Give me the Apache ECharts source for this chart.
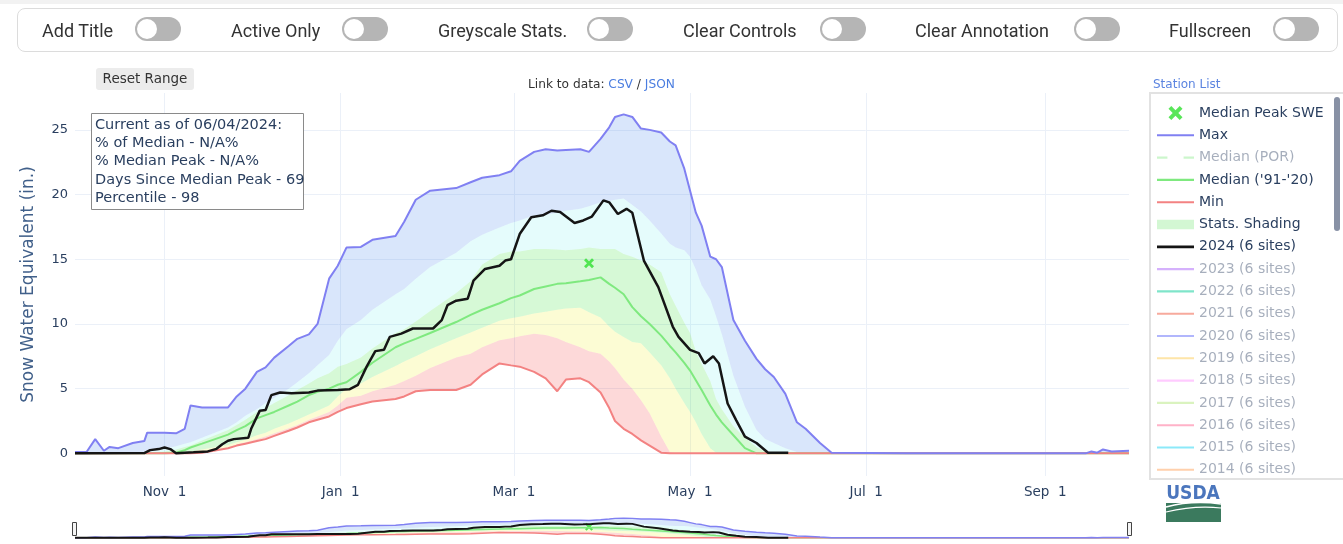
<!DOCTYPE html>
<html lang="en">
<head>
<meta charset="UTF-8">
<title>Snow Water Equivalent</title>
<style>
  body { margin: 0; background: #fff; }
  #wrap { position: relative; width: 1343px; height: 544px; overflow: hidden; }
  #main { position: absolute; left: 0; top: 0; width: 1343px; height: 544px; }
  #topline { position: absolute; left: 0; top: 0; width: 1343px; height: 4px; background: #f2f2f2; }
  #toolbar { position: absolute; left: 17px; top: 8px; width: 1319px; height: 42px; border: 1px solid #dcdcdc;
             border-radius: 8px; background: #fff; font-family: Roboto, sans-serif; font-size: 18px; color: #333; }
  .lbl { position: absolute; top: 0; line-height: 44px; white-space: nowrap; }
  .tog { position: absolute; top: 8px; width: 46px; height: 24px; border-radius: 12px; background: #b5b5b5; }
  .tog:after { content: ''; position: absolute; left: 2px; top: 2px; width: 20px; height: 20px; border-radius: 50%; background: #fff; }
</style>
</head>
<body>
<div id="wrap">
  <div id="main"></div>
  <div id="topline"></div>
  <div id="toolbar">
    <span class="lbl" style="left:24px">Add Title</span><span class="tog" style="left:117px"></span>
    <span class="lbl" style="left:213px">Active Only</span><span class="tog" style="left:324px"></span>
    <span class="lbl" style="left:420px">Greyscale Stats.</span><span class="tog" style="left:569px"></span>
    <span class="lbl" style="left:665px">Clear Controls</span><span class="tog" style="left:802px"></span>
    <span class="lbl" style="left:897px">Clear Annotation</span><span class="tog" style="left:1056px"></span>
    <span class="lbl" style="left:1151px">Fullscreen</span><span class="tog" style="left:1255px"></span>
  </div>
</div>
<script src="https://cdn.jsdelivr.net/npm/echarts@6.0.0/dist/echarts.min.js"></script>
<script>
    // dates shared by all the statistics curves (water year 2024)
    const statDates = [
        '2023-10-01', '2023-10-05', '2023-10-08', '2023-10-11', '2023-10-13', '2023-10-16', '2023-10-21', '2023-10-25', '2023-10-26',
        '2023-11-01', '2023-11-05', '2023-11-08', '2023-11-10', '2023-11-14', '2023-11-23', '2023-11-26', '2023-11-29',
        '2023-12-03', '2023-12-06', '2023-12-09', '2023-12-14', '2023-12-17', '2023-12-21', '2023-12-24', '2023-12-28', '2023-12-31',
        '2024-01-03', '2024-01-08', '2024-01-12', '2024-01-20', '2024-01-23', '2024-01-27',
        '2024-02-01', '2024-02-10', '2024-02-15', '2024-02-19', '2024-02-25', '2024-02-29',
        '2024-03-03', '2024-03-08', '2024-03-12', '2024-03-16', '2024-03-19', '2024-03-24', '2024-03-27', '2024-03-31',
        '2024-04-03', '2024-04-05', '2024-04-08', '2024-04-11', '2024-04-14', '2024-04-17', '2024-04-21', '2024-04-24', '2024-04-26', '2024-04-29',
        '2024-05-01', '2024-05-03', '2024-05-05', '2024-05-08', '2024-05-10', '2024-05-12', '2024-05-16', '2024-05-20', '2024-05-24', '2024-05-27', '2024-05-30',
        '2024-06-03', '2024-06-07', '2024-06-10', '2024-06-15', '2024-06-19',
        '2024-07-15',
        '2024-09-15', '2024-09-17', '2024-09-19', '2024-09-21', '2024-09-24', '2024-09-30'
    ];
    const maxSwe = [
        0.1, 0.1, 1.1, 0.2, 0.5, 0.4, 0.8, 0.95, 1.6,
        1.6, 1.55, 1.9, 3.7, 3.55, 3.55, 4.4, 5.0,
        6.3, 6.65, 7.4, 8.3, 8.85, 9.2, 10.0, 13.5, 14.5,
        15.9, 15.95, 16.5, 16.8, 17.9, 19.6,
        20.3, 20.5, 20.95, 21.3, 21.5, 21.8,
        22.6, 23.3, 23.5, 23.4, 23.45, 23.5, 23.3, 24.3,
        25.2, 26.0, 26.2, 26.0, 25.1, 25.0, 24.8, 24.1, 23.8, 22.0,
        20.3, 18.6, 17.6, 15.2, 15.0, 14.4, 10.3, 8.7, 7.3, 6.5, 5.9,
        4.6, 2.4, 1.9, 0.8, 0.05,
        0,
        0, 0.15, 0.05, 0.3, 0.15, 0.2
    ];
    const p90Swe = [
        0, 0, 0, 0, 0, 0, 0, 0.05, 0.1,
        0.35, 0.55, 0.75, 0.85, 1.2, 2.0, 2.4, 2.9,
        3.4, 3.9, 4.3, 5.0, 5.5, 6.2, 6.8, 7.6, 8.7,
        9.6, 10.3, 11.1, 12.3, 12.7, 13.5,
        14.4, 15.5, 16.4, 16.9, 17.45, 17.8,
        18.0, 18.4, 18.45, 18.6, 18.75, 18.9, 19.1, 19.4,
        19.5, 19.6, 19.7, 19.2, 18.7, 18.0, 17.0, 16.2, 15.9, 15.7,
        15.2, 14.2, 13.0, 11.9, 10.6, 9.2, 6.0, 3.6, 1.8, 1.1, 0.8,
        0.4, 0.1, 0, 0, 0,
        0,
        0, 0, 0, 0, 0, 0
    ];
    const p70Swe = [
        0, 0, 0, 0, 0, 0, 0, 0, 0.02,
        0.15, 0.3, 0.5, 0.6, 1.0, 1.8, 2.2, 2.6,
        3.2, 3.5, 3.9, 4.5, 4.9, 5.4, 5.8, 6.2, 6.7,
        6.9, 7.4, 8.1, 9.3, 9.6, 10.2,
        11.0, 12.4, 13.3, 14.6, 15.4, 15.6,
        15.6, 15.8, 15.8, 15.75, 15.7, 15.8, 15.9, 15.8,
        15.8, 15.8, 15.4, 15.2, 14.9, 14.6, 14.0, 12.3, 11.4, 10.1,
        9.3, 7.9, 6.9, 5.6, 4.2, 3.4, 2.1, 1.2, 0.5, 0.15, 0,
        0, 0, 0, 0, 0,
        0,
        0, 0, 0, 0, 0, 0
    ];
    const medianSwe = [
        0, 0, 0, 0, 0, 0, 0, 0, 0,
        0, 0.05, 0.25, 0.45, 0.75, 1.45, 1.8, 2.1,
        2.7, 2.95, 3.2, 3.7, 4.0, 4.5, 4.75, 5.0, 5.3,
        5.5, 6.3, 7.0, 8.2, 8.5, 8.85,
        9.3, 10.15, 10.7, 11.1, 11.6, 12.0,
        12.2, 12.7, 12.9, 13.1, 13.15, 13.3, 13.4, 13.6,
        13.1, 12.8, 12.3, 11.3, 10.6, 10.0, 9.1, 8.3, 7.8, 7.0,
        6.4, 5.65, 4.9, 3.7, 3.0, 2.4, 1.4, 0.4, 0, 0, 0,
        0, 0, 0, 0, 0,
        0,
        0, 0, 0, 0, 0, 0
    ];
    const p30Swe = [
        0, 0, 0, 0, 0, 0, 0, 0, 0,
        0, 0, 0.05, 0.15, 0.3, 0.65, 0.85, 1.05,
        1.4, 1.6, 1.9, 2.3, 2.6, 3.0, 3.3, 3.7, 4.4,
        5.0, 5.4, 5.9, 6.75, 7.1, 7.5,
        8.05, 8.9, 9.35, 9.7, 10.25, 10.45,
        10.55, 10.8, 10.95, 11.1, 11.2, 11.25, 10.9, 10.5,
        9.8, 9.4, 9.0, 8.6, 8.5, 7.8, 6.8, 5.8, 5.0, 3.9,
        3.2, 2.4, 1.5, 0.4, 0.05, 0, 0, 0, 0, 0, 0,
        0, 0, 0, 0, 0,
        0,
        0, 0, 0, 0, 0, 0
    ];
    const p10Swe = [
        0, 0, 0, 0, 0, 0, 0, 0, 0,
        0, 0, 0, 0, 0.05, 0.45, 0.7, 0.85,
        1.1, 1.3, 1.55, 1.95, 2.2, 2.6, 2.85, 3.2, 3.7,
        4.3, 4.45, 4.8, 5.3, 5.6, 6.0,
        6.6, 7.4, 7.7, 8.2, 8.75, 8.9,
        9.05, 9.25, 9.15, 8.9, 8.6, 8.2, 7.9, 7.7,
        7.1, 6.6, 5.7, 5.0, 4.1, 3.1, 1.3, 0.1, 0, 0,
        0, 0, 0, 0, 0, 0, 0, 0, 0, 0, 0,
        0, 0, 0, 0, 0,
        0,
        0, 0, 0, 0, 0, 0
    ];
    const minSwe = [
        0, 0, 0, 0, 0, 0, 0, 0, 0,
        0, 0, 0, 0, 0.05, 0.4, 0.6, 0.75,
        0.95, 1.1, 1.35, 1.75, 2.0, 2.4, 2.6, 2.85, 3.2,
        3.5, 3.8, 4.0, 4.2, 4.4, 4.8,
        4.9, 4.9, 5.3, 6.1, 6.95, 6.8,
        6.7, 6.3, 5.8, 4.8, 5.7, 5.8, 5.5, 4.7,
        3.5, 2.5, 1.9, 1.5, 1.0, 0.6, 0.05, 0, 0, 0,
        0, 0, 0, 0, 0, 0, 0, 0, 0, 0, 0,
        0, 0, 0, 0, 0,
        0,
        0, 0, 0, 0, 0, 0
    ];

    // current water year (2024, 6 sites)
    const wy2024Dates = [
        '2023-10-01', '2023-10-25', '2023-10-27', '2023-10-30',
        '2023-11-01', '2023-11-03', '2023-11-05', '2023-11-11', '2023-11-16', '2023-11-19', '2023-11-21', '2023-11-23', '2023-11-25', '2023-11-30',
        '2023-12-01', '2023-12-04', '2023-12-06', '2023-12-08', '2023-12-11', '2023-12-15', '2023-12-21', '2023-12-24', '2023-12-31',
        '2024-01-04', '2024-01-07', '2024-01-10', '2024-01-13', '2024-01-16', '2024-01-18', '2024-01-22', '2024-01-26',
        '2024-02-02', '2024-02-05', '2024-02-07', '2024-02-10', '2024-02-14', '2024-02-16', '2024-02-20', '2024-02-25', '2024-02-27', '2024-02-29',
        '2024-03-03', '2024-03-07', '2024-03-11', '2024-03-14', '2024-03-17', '2024-03-22', '2024-03-25', '2024-03-28',
        '2024-04-01', '2024-04-03', '2024-04-06', '2024-04-09', '2024-04-11', '2024-04-15', '2024-04-20', '2024-04-25', '2024-04-27',
        '2024-05-01', '2024-05-04', '2024-05-06', '2024-05-09', '2024-05-11', '2024-05-14', '2024-05-17', '2024-05-20', '2024-05-24', '2024-05-28',
        '2024-06-04'
    ];
    const wy2024Swe = [
        0, 0.02, 0.25, 0.33,
        0.45, 0.33, 0, 0.08, 0.15, 0.35, 0.7, 0.97, 1.1, 1.2,
        1.9, 3.3, 3.35, 4.5, 4.7, 4.65, 4.7, 4.85, 4.9,
        4.95, 5.3, 6.7, 7.9, 8.0, 9.0, 9.25, 9.65,
        9.65, 10.3, 11.45, 11.8, 11.95, 13.35, 14.25, 14.5, 14.9, 15.0,
        16.95, 18.25, 18.4, 18.75, 18.65, 17.8, 18.0, 18.3,
        19.55, 19.4, 18.5, 18.9, 18.6, 14.9, 12.85, 9.8, 9.0,
        8.0, 7.75, 6.95, 7.5, 6.95, 3.85, 2.55, 1.3, 0.8, 0.05,
        0.05
    ];
    const medianPeakDate = '2024-03-27';
    const medianPeakSwe = 14.7;

    const tickDates = ['2023-11-01', '2024-01-01', '2024-03-01', '2024-05-01', '2024-07-01', '2024-09-01'];
    const yTicks = [0, 5, 10, 15, 20, 25];

    const pastYears = ['2023', '2022', '2021', '2020', '2019', '2018', '2017', '2016', '2015', '2014'];
    const pastSites = [6, 6, 6, 6, 6, 5, 6, 6, 6, 6];
    const pastColors = ['#ab63fa', '#00cc96', '#ef553b', '#636efa', '#fecb52', '#ff97ff', '#b6e880', '#ff6692', '#19d3f3', '#ffa15a'];

    const infoLines = [
        'Current as of 06/04/2024:',
        '% of Median - N/A%',
        '% Median Peak - N/A%',
        'Days Since Median Peak - 69',
        'Percentile - 98'
    ];

    const MONTHS = ['Jan', 'Feb', 'Mar', 'Apr', 'May', 'Jun', 'Jul', 'Aug', 'Sep', 'Oct', 'Nov', 'Dec'];
    const FONT = '"DejaVu Sans", Verdana, sans-serif';
    const TXT = '#2a3f5f';
    const GRIDC = '#ebf0f8';
    const C_MAX = '#8080f2', C_MED = '#7fe97f', C_MIN = '#f38282', C_2024 = '#151515', C_PEAK = '#2fe02f';

    // dates go on a numeric axis as local-midnight timestamps
    function ts(s) { return new Date(s + 'T00:00:00').getTime(); }
    function pairs(dates, vals) { return dates.map(function (d, i) { return [ts(d), vals[i]]; }); }
    function fade(hex, a) {
        const n = parseInt(hex.slice(1), 16);
        return 'rgba(' + (n >> 16) + ',' + ((n >> 8) & 255) + ',' + (n & 255) + ',' + a + ')';
    }

    const xMarker = 'path://M2,0 L5,3 L8,0 L10,2 L7,5 L10,8 L8,10 L5,7 L2,10 L0,8 L3,5 L0,2 Z';
    const lineIcon = 'path://M0,0 H35 V2 H0 Z';
    const boldLineIcon = 'path://M0,0 H35 V2.6 H0 Z';
    const dashIcon = 'path://M0,0 H9 V2 H0 Z M23,0 H32 V2 H23 Z';

    const bands = [
        [p10Swe, minSwe, 'rgba(240,0,0,0.15)'],
        [p30Swe, p10Swe, 'rgba(240,240,0,0.17)'],
        [p70Swe, p30Swe, 'rgba(0,220,0,0.16)'],
        [p90Swe, p70Swe, 'rgba(0,230,230,0.1)'],
        [maxSwe, p90Swe, 'rgba(80,140,235,0.22)']
    ];

    // one filled polygon between two percentile curves
    function bandSeries(ax, hi, lo, color) {
        return {
            type: 'custom', name: 'Stats. Shading', xAxisIndex: ax, yAxisIndex: ax, silent: true,
            data: statDates.map(function (d, i) { return [ts(d), lo[i], hi[i]]; }),
            encode: { x: 0, y: [1, 2] },
            renderItem: function (params, api) {
                if (params.dataIndexInside !== 0) return;
                const top = [], bottom = [];
                for (let j = 0; j < params.dataInsideLength; j++) {
                    top.push(api.coord([api.value(0, j), api.value(2, j)]));
                    bottom.push(api.coord([api.value(0, j), api.value(1, j)]));
                }
                return { type: 'polygon', shape: { points: top.concat(bottom.reverse()) }, style: { fill: color } };
            }
        };
    }

    function buildSeries(ax, mini) {
        const w = mini ? 1.5 : 2;
        const common = { xAxisIndex: ax, yAxisIndex: ax, type: 'line', symbol: 'none', silent: true };
        const out = bands.map(function (b) { return bandSeries(ax, b[0], b[1], b[2]); });
        out.push(Object.assign({ name: "Median ('91-'20)", data: pairs(statDates, medianSwe), lineStyle: { color: C_MED, width: w } }, common));
        out.push(Object.assign({ name: 'Min', data: pairs(statDates, minSwe), lineStyle: { color: C_MIN, width: w } }, common));
        out.push(Object.assign({ name: 'Max', data: pairs(statDates, maxSwe), lineStyle: { color: C_MAX, width: w } }, common));
        out.push(Object.assign({ name: '2024 (6 sites)', data: pairs(wy2024Dates, wy2024Swe), lineStyle: { color: C_2024, width: mini ? 2 : 2.5 } }, common));
        out.push({
            name: 'Median Peak SWE', type: 'scatter', xAxisIndex: ax, yAxisIndex: ax, silent: true,
            symbol: xMarker, symbolSize: mini ? 8 : 10, itemStyle: { color: C_PEAK },
            data: [[ts(medianPeakDate), medianPeakSwe]]
        });
        return out;
    }

    function load() {
        const chart = echarts.init(document.getElementById('main'), null, { renderer: 'canvas' });

        const series = buildSeries(0, false).concat(buildSeries(1, true));
        // legend-only entries (hidden traces)
        series.push({ name: 'Median (POR)', type: 'line', data: [], symbol: 'none' });
        pastYears.forEach(function (y, i) {
            series.push({ name: y + ' (' + pastSites[i] + ' sites)', type: 'line', data: [], symbol: 'none' });
        });

        const faded = { color: 'rgba(42,63,95,0.42)' };
        const legendData = [
            { name: 'Median Peak SWE', icon: xMarker, itemStyle: { color: C_PEAK } },
            { name: 'Max', icon: lineIcon, itemStyle: { color: C_MAX } },
            { name: 'Median (POR)', icon: dashIcon, itemStyle: { color: fade('#7fe97f', 0.4) }, textStyle: faded },
            { name: "Median ('91-'20)", icon: lineIcon, itemStyle: { color: C_MED } },
            { name: 'Min', icon: lineIcon, itemStyle: { color: C_MIN } },
            { name: 'Stats. Shading', icon: 'path://M0,0 H35 V9 H0 Z', itemStyle: { color: '#d3f7d3' } },
            { name: '2024 (6 sites)', icon: boldLineIcon, itemStyle: { color: C_2024 } }
        ].concat(pastYears.map(function (y, i) {
            return { name: y + ' (' + pastSites[i] + ' sites)', icon: lineIcon, itemStyle: { color: fade(pastColors[i], 0.5) }, textStyle: faded };
        }));

        const graphics = [
            { type: 'rect', z: 50, shape: { x: 96, y: 68, width: 98, height: 22, r: 3 }, style: { fill: '#ececec' } },
            { type: 'text', z: 51, x: 145, y: 79, style: { text: 'Reset Range', font: '13.5px ' + FONT, fill: '#333', align: 'center', verticalAlign: 'middle' } },
            {
                type: 'text', z: 51, x: 528, y: 85,
                style: {
                    text: '{a|Link to data: }{b|CSV}{a| / }{b|JSON}', verticalAlign: 'middle',
                    rich: { a: { font: '12.2px ' + FONT, fill: '#333' }, b: { font: '12.2px ' + FONT, fill: '#4a7de0' } }
                }
            },
            { type: 'text', z: 51, x: 1153, y: 85, style: { text: 'Station List', font: '12px ' + FONT, fill: '#5b84e0', verticalAlign: 'middle' } },
            { type: 'rect', z: 50, shape: { x: 91.5, y: 113.5, width: 212, height: 96 }, style: { fill: '#fff', stroke: '#8a8a8a', lineWidth: 1 } },
            { type: 'rect', z: 1, shape: { x: 1150, y: 93, width: 200, height: 386 }, style: { fill: 'none', stroke: '#e2e2e2', lineWidth: 2 } },
            { type: 'rect', z: 51, shape: { x: 1334, y: 97, width: 6, height: 134, r: 3 }, style: { fill: '#8891a5' } },
            { type: 'text', z: 51, x: 1193, y: 494, style: { text: 'USDA', font: 'bold 19px "DejaVu Sans Condensed", "Liberation Sans Narrow", sans-serif', fill: '#4b76bd', align: 'center', verticalAlign: 'middle' } },
            { type: 'rect', z: 51, shape: { x: 1166, y: 503, width: 55, height: 19 }, style: { fill: '#3b7a5e' } },
            { type: 'bezierCurve', z: 52, shape: { x1: 1166, y1: 507, cpx1: 1192, cpy1: 500, x2: 1221, y2: 504 }, style: { fill: 'none', stroke: '#fff', lineWidth: 1.5 } },
            { type: 'bezierCurve', z: 52, shape: { x1: 1166, y1: 512, cpx1: 1195, cpy1: 505, x2: 1221, y2: 508 }, style: { fill: 'none', stroke: '#fff', lineWidth: 1.2 } },
            { type: 'rect', z: 51, shape: { x: 72.5, y: 522.5, width: 4, height: 13 }, style: { fill: '#f4f4f4', stroke: '#444', lineWidth: 1 } },
            { type: 'rect', z: 51, shape: { x: 1127.5, y: 522.5, width: 4, height: 13 }, style: { fill: '#f4f4f4', stroke: '#444', lineWidth: 1 } }
        ];
        infoLines.forEach(function (t, i) {
            graphics.push({ type: 'text', z: 51, x: 95, y: 125 + i * 18.3, style: { text: t, font: '14.5px ' + FONT, fill: TXT, verticalAlign: 'middle' } });
        });

        chart.setOption({
            animation: false,
            backgroundColor: '#fff',
            grid: [
                { left: 75, right: 214, top: 93, bottom: 68, outerBoundsMode: 'none' },
                { left: 75, right: 214, top: 517, bottom: 5, outerBoundsMode: 'none' }
            ],
            xAxis: [
                {
                    type: 'value', gridIndex: 0, min: ts('2023-10-01'), max: ts('2024-09-30'),
                    axisLine: { show: false },
                    axisTick: { show: false, customValues: tickDates.map(ts) },
                    axisLabel: {
                        customValues: tickDates.map(ts), margin: 9, color: TXT, fontFamily: FONT, fontSize: 13.5,
                        formatter: function (v) { const d = new Date(v); return MONTHS[d.getMonth()] + '  ' + d.getDate(); }
                    },
                    splitLine: { show: true, lineStyle: { color: GRIDC, width: 1 } }
                },
                { type: 'value', gridIndex: 1, min: ts('2023-10-01'), max: ts('2024-09-30'), show: false, splitLine: { show: false } }
            ],
            yAxis: [
                {
                    type: 'value', gridIndex: 0, min: -1.75, max: 27.85,
                    name: 'Snow Water Equivalent (in.)', nameLocation: 'middle', nameGap: 38,
                    nameTextStyle: { color: '#41608a', fontFamily: FONT, fontSize: 17 },
                    axisLine: { show: false },
                    axisTick: { show: false, customValues: yTicks },
                    axisLabel: { customValues: yTicks, margin: 7, color: TXT, fontFamily: FONT, fontSize: 13 },
                    splitLine: { show: true, lineStyle: { color: GRIDC, width: 1 } }
                },
                { type: 'value', gridIndex: 1, min: -1.75, max: 27.85, show: false, splitLine: { show: false } }
            ],
            legend: {
                orient: 'vertical', left: 1157, top: 106, padding: 0, itemWidth: 37, itemHeight: 14, itemGap: 8.3,
                selectedMode: false,
                textStyle: { fontFamily: FONT, fontSize: 14, color: TXT, lineHeight: 14 },
                data: legendData
            },
            graphic: graphics,
            series: series
        });
    }

    window.onload = function () {
        load();
    };
</script>
</body>
</html>
